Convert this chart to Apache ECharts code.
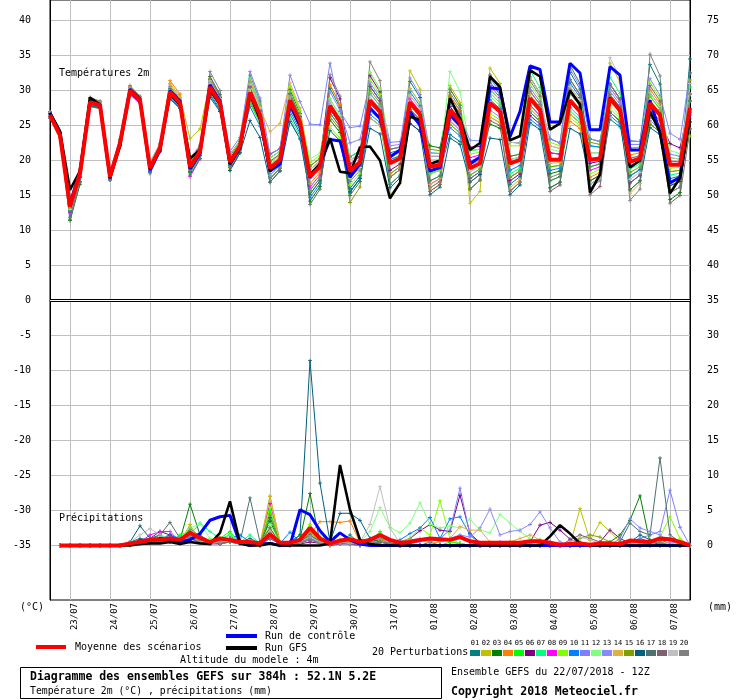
<!DOCTYPE html>
<html><head><meta charset="utf-8">
<script src="https://cdn.jsdelivr.net/npm/echarts@6/dist/echarts.min.js"></script>
<style>html,body{margin:0;padding:0;background:#fff}#c{width:740px;height:700px}</style>
</head><body><div id="c"></div>
<script>
// ---- categories / ticks ----
const days = ['22/07','23/07','24/07','25/07','26/07','27/07','28/07','29/07','30/07','31/07','01/08','02/08','03/08','04/08','05/08','06/08','07/08'];
const hours = ['00Z','06Z','12Z','18Z'];
const tempTicks = [-35,-30,-25,-20,-15,-10,-5,0,5,10,15,20,25,30,35,40];
const rightTicks = [0,5,10,15,20,25,30,35,40,45,50,55,60,65,70,75];
const memberColors = ['#008080','#c0c000','#008000','#ff8000','#00ff00','#800080','#00ff80','#ff00ff','#80ff00','#0080ff','#8080ff','#80ff80','#8888ff','#e0b040','#80a000','#006080','#507070','#806070','#c0c0c0','#808080'];

// ---- temperature 2m (°C) ----
const tMean = [26.5,23.6,13.4,18.2, 28.3,27.9,17.7,22.5, 30.0,28.6,18.9,21.8, 29.8,28.2,19.1,21.3, 30.5,28.2,19.8,22.1, 29.7,26.5,18.9,20.1, 28.6,25.5,17.7,19.1, 27.8,25.6,18.5,19.8, 28.6,27.0,19.6,20.3, 28.3,26.6,19.1,19.4, 27.2,25.5,18.9,19.6, 28.2,27.0,19.6,20.1, 28.9,27.2,20.1,20.1, 28.6,27.0,20.1,20.3, 28.9,27.2,19.8,20.3, 28.2,26.5,19.4,19.4, 27.5];
const tControl = [26.8,24.0,13.8,18.5, 28.5,28.0,17.5,22.5, 30.2,28.8,18.6,21.5, 30.0,28.5,18.8,21.0, 30.8,28.5,19.5,21.8, 29.5,26.0,18.5,19.5, 28.0,25.0,17.5,19.5, 23.0,22.8,17.6,19.5, 27.5,26.0,20.5,21.5, 27.0,25.0,18.5,19.0, 26.5,25.0,19.5,20.5, 30.4,30.2,23.4,27.0, 33.5,33.0,25.5,25.5, 33.9,32.5,24.4,24.4, 33.4,32.2,21.5,21.5, 28.6,24.0,16.8,17.6, 27.0];
const tGFS = [26.8,24.2,15.8,18.5, 29.0,28.0,17.5,22.0, 29.8,28.5,18.8,21.5, 29.5,28.0,20.3,21.5, 30.0,28.0,19.5,21.8, 29.5,26.0,18.5,20.0, 28.5,25.0,18.0,19.5, 23.2,18.4,18.2,21.9, 22.0,20.0,14.6,16.8, 26.3,25.8,19.5,20.0, 28.9,26.0,21.5,22.5, 32.0,30.5,22.9,23.5, 32.9,32.0,24.4,25.3, 30.0,28.0,15.4,18.0, 29.0,27.0,19.0,20.0, 27.0,24.0,15.3,17.5, 26.0];
const t01 = [26.9,23.9,11.9,17.0, 28.6,28.1,17.9,22.7, 29.5,28.2,19.5,22.3, 29.0,27.6,19.6,21.7, 29.3,27.2,20.6,22.7, 31.2,27.7,17.4,18.9, 26.6,23.9,19.2,20.3, 30.3,27.6,16.0,17.8, 26.1,25.0,21.1,21.5, 31.3,29.0,18.1,18.6, 23.7,22.7,21.4,21.6, 31.2,29.4,16.6,17.7, 26.9,25.6,23.1,22.5, 32.6,30.2,16.6,17.5, 25.9,24.8,22.8,22.7, 33.7,30.9,17.4,17.8, 34.5];
const t02 = [26.2,23.4,13.9,18.6, 28.8,28.3,17.4,22.3, 30.6,29.1,18.4,21.4, 31.0,29.2,23.1,24.5, 31.3,28.8,18.8,21.3, 31.2,27.7,19.9,20.9, 30.6,27.1,15.2,17.1, 30.8,28.0,15.5,17.4, 32.6,30.2,15.1,16.7, 32.8,30.2,16.1,17.0, 30.7,28.3,13.9,15.6, 33.2,31.0,17.6,18.5, 31.9,29.6,16.1,16.9, 30.6,28.6,17.1,17.9, 33.9,31.2,15.8,17.1, 29.2,27.3,16.4,17.0, 31.5];
const t03 = [26.3,23.4,11.4,16.6, 27.9,27.6,18.0,22.7, 30.3,28.8,18.5,21.5, 29.3,27.8,18.3,20.7, 31.0,28.6,18.6,21.1, 28.7,25.7,20.4,21.3, 30.1,26.7,14.2,16.3, 25.8,24.0,20.5,21.4, 30.6,28.6,17.6,18.7, 26.8,25.4,22.1,21.8, 29.2,27.1,19.9,20.4, 25.2,24.6,22.6,22.5, 31.9,29.6,18.1,18.5, 26.6,25.4,23.1,22.7, 30.9,28.8,17.8,18.7, 25.2,24.1,14.4,15.4, 29.5];
const t04 = [26.7,23.8,14.2,18.8, 28.9,28.4,17.7,22.5, 30.2,28.8,19.2,22.0, 31.4,29.5,18.6,20.9, 30.8,28.4,20.3,22.5, 30.2,26.9,18.4,19.7, 28.1,25.1,16.7,18.3, 30.8,28.0,17.5,19.0, 27.6,26.2,17.6,18.7, 29.3,27.4,15.6,16.6, 29.2,27.1,16.9,18.0, 26.2,25.4,15.6,16.9, 29.9,28.0,22.1,21.7, 25.6,24.6,17.6,18.3, 30.4,28.4,20.8,21.1, 30.2,28.1,16.4,17.0, 25.5];
const t05 = [26.5,23.6,12.9,17.8, 28.0,27.7,18.1,22.8, 29.6,28.3,18.7,21.6, 30.2,28.5,19.7,21.8, 29.9,27.7,19.4,21.8, 28.2,25.3,19.4,20.5, 27.6,24.7,15.7,17.5, 26.8,24.8,15.5,17.4, 29.6,27.8,20.1,20.7, 26.3,25.0,17.1,17.8, 28.2,26.3,15.9,17.2, 30.2,28.6,20.6,20.9, 27.9,26.4,17.1,17.7, 29.6,27.8,19.1,19.5, 26.9,25.6,21.8,21.9, 29.2,27.3,20.4,20.2, 24.5];
const t06 = [26.8,23.8,13.6,18.4, 28.1,27.7,17.4,22.3, 30.5,29.0,19.1,22.0, 29.5,28.0,20.1,22.1, 31.5,29.0,19.3,21.7, 29.2,26.1,20.9,21.7, 29.6,26.3,18.7,19.9, 31.8,28.8,19.5,20.6, 32.1,29.8,18.6,19.5, 25.3,24.2,20.6,20.6, 27.7,25.9,21.9,22.0, 29.2,27.8,17.1,18.1, 26.4,25.2,21.1,20.9, 31.6,29.4,19.6,19.9, 29.4,27.6,16.8,17.9, 27.2,25.7,22.4,21.8, 28.5];
const t07 = [26.1,23.3,13.7,18.4, 28.5,28.1,17.2,22.1, 29.8,28.4,19.3,22.1, 30.0,28.4,18.1,20.5, 30.1,27.9,20.8,22.9, 31.7,28.1,17.9,19.3, 26.1,23.5,18.2,19.5, 28.8,26.4,20.5,21.4, 27.1,25.8,16.6,17.9, 30.3,28.2,21.1,21.0, 25.2,23.9,17.9,18.8, 29.7,28.2,18.1,18.9, 32.9,30.4,19.1,19.3, 27.1,25.8,22.1,21.9, 31.9,29.6,18.8,19.5, 26.2,24.9,17.9,18.2, 30.5];
const t08 = [26.6,23.7,12.6,17.6, 28.0,27.7,17.5,22.3, 29.4,28.1,18.6,21.6, 29.4,27.9,17.7,20.2, 30.3,28.0,19.0,21.5, 30.5,27.1,19.2,20.3, 29.1,25.9,16.2,17.9, 27.3,25.2,20.0,21.0, 30.6,28.6,21.6,21.9, 28.8,27.0,16.6,17.4, 25.7,24.3,20.4,20.8, 30.7,29.0,20.1,20.5, 27.9,26.4,21.1,20.9, 30.1,28.2,18.6,19.1, 30.9,28.8,19.3,19.9, 29.7,27.7,19.9,19.8, 29.5];
const t09 = [26.4,23.5,14.0,18.7, 28.7,28.2,18.2,22.9, 30.1,28.7,18.7,21.6, 30.4,28.7,19.5,21.6, 31.2,28.8,20.0,22.3, 28.7,25.7,19.7,20.7, 30.6,27.1,19.7,20.7, 24.8,23.2,16.5,18.2, 31.6,29.4,20.6,21.1, 27.3,25.8,18.1,18.6, 30.2,27.9,20.9,21.2, 26.7,25.8,22.1,22.1, 30.9,28.8,22.6,22.1, 26.1,25.0,18.1,18.7, 27.4,26.0,21.3,21.5, 31.2,28.9,18.9,19.0, 23.5];
const t10 = [26.5,23.6,13.2,18.0, 27.8,27.5,18.3,23.0, 29.7,28.4,19.7,22.4, 28.9,27.5,19.4,21.5, 29.5,27.4,19.5,21.9, 27.7,24.9,18.4,19.7, 27.1,24.3,14.7,16.7, 27.3,25.2,15.5,17.4, 26.6,25.4,20.1,20.7, 29.8,27.8,19.6,19.8, 24.7,23.5,17.4,18.4, 28.7,27.4,18.6,19.3, 25.9,24.8,18.6,18.9, 31.1,29.0,22.1,21.9, 26.4,25.2,17.8,18.7, 28.2,26.5,16.9,17.4, 28.5];
const t11 = [26.7,23.7,13.5,18.3, 28.4,28.0,17.3,22.2, 30.4,28.9,19.0,21.9, 30.6,28.8,19.9,21.9, 32.0,29.4,21.3,23.3, 32.7,28.9,20.9,21.7, 32.2,28.4,25.2,25.1, 33.9,27.0,24.7,24.9, 31.1,29.0,22.6,22.7, 26.3,25.0,19.6,19.8, 28.7,26.7,19.9,20.4, 27.2,26.2,17.6,18.5, 30.4,28.4,23.1,22.5, 27.6,26.2,21.1,21.1, 29.9,28.0,22.3,22.3, 25.7,24.5,20.9,20.6, 26.5];
const t12 = [26.3,23.4,13.1,18.0, 28.6,28.1,17.8,22.6, 30.3,28.8,19.4,22.2, 30.3,28.6,18.8,21.1, 30.2,28.0,20.4,22.6, 30.2,26.9,20.4,21.3, 29.8,26.5,20.2,21.1, 28.8,26.4,17.5,19.0, 32.6,30.2,21.6,21.9, 27.8,26.2,20.1,20.2, 32.7,29.9,21.4,21.6, 29.2,27.8,20.1,20.5, 26.9,25.6,21.6,21.3, 31.6,29.4,21.1,21.1, 27.9,26.4,20.3,20.7, 29.7,27.7,21.4,21.0, 29.5];
const t13 = [26.6,23.7,13.8,18.5, 28.3,27.9,18.0,22.7, 29.9,28.5,18.6,21.6, 29.6,28.0,19.3,21.5, 31.1,28.7,20.1,22.3, 28.9,25.9,17.9,19.3, 25.6,23.1,17.7,19.1, 29.8,27.2,22.5,23.0, 29.6,27.8,22.1,22.3, 31.8,29.4,21.1,21.0, 28.2,26.3,22.9,22.8, 31.7,29.8,22.6,22.5, 29.9,28.0,23.1,22.5, 33.1,30.6,23.1,22.7, 30.4,28.4,22.8,22.7, 31.7,29.3,23.9,23.0, 32.5];
const t14 = [26.4,23.5,14.3,18.9, 28.6,28.1,18.0,22.7, 30.5,29.0,19.5,22.3, 30.8,29.0,19.9,21.9, 31.0,28.6,20.8,22.9, 31.6,27.5,24.1,25.3, 31.1,27.5,18.7,19.9, 26.8,24.8,20.0,21.0, 26.1,25.0,18.1,19.1, 30.3,28.2,16.6,17.4, 26.2,24.7,19.4,20.0, 26.2,25.4,16.1,17.3, 29.4,27.6,19.6,19.7, 26.6,25.4,17.1,17.9, 28.4,26.8,15.3,16.7, 27.2,25.7,18.4,18.6, 26.0];
const t15 = [26.8,23.8,13.2,18.0, 28.8,28.3,17.3,22.2, 29.8,28.4,19.2,22.0, 30.1,28.4,18.7,21.0, 31.7,29.2,20.1,22.3, 28.5,25.5,17.4,18.9, 29.1,25.9,19.2,20.3, 26.3,24.4,14.0,16.2, 30.1,28.2,18.1,19.1, 27.8,26.2,21.6,21.4, 25.2,23.9,17.9,18.8, 30.2,28.6,17.6,18.5, 27.4,26.0,19.1,19.3, 30.1,28.2,22.6,22.3, 29.4,27.6,18.3,19.1, 25.2,24.1,18.4,18.6, 28.5];
const t16 = [26.7,23.8,12.8,17.7, 27.8,27.5,17.2,22.1, 29.6,28.3,18.3,21.3, 28.8,27.4,18.4,20.7, 29.0,27.0,18.6,21.1, 25.7,23.3,16.9,18.5, 25.6,23.1,15.2,17.1, 24.3,22.8,15.5,17.4, 24.6,23.8,16.1,17.5, 25.3,24.2,15.1,16.2, 23.2,22.3,16.9,18.0, 23.2,23.0,15.1,16.5, 25.4,24.4,16.1,16.9, 24.6,23.8,17.1,17.9, 26.9,25.6,15.8,17.1, 24.7,23.7,16.4,17.0, 25.5];
const t17 = [27.0,24.0,11.6,16.8, 27.7,27.4,17.5,22.3, 30.2,28.8,18.4,21.4, 30.3,28.6,17.9,20.3, 32.0,29.4,19.3,21.7, 30.5,27.1,16.9,18.5, 29.6,26.3,13.7,15.9, 26.8,24.8,15.0,17.0, 30.6,28.6,16.6,17.9, 27.3,25.8,17.1,17.8, 30.2,27.9,15.9,17.2, 32.2,30.2,20.6,20.9, 26.9,25.6,17.1,17.7, 33.6,31.0,19.1,19.5, 30.9,28.8,16.8,17.9, 26.2,24.9,15.4,16.2, 32.5];
const t18 = [26.2,23.4,13.6,18.4, 28.5,28.1,17.9,22.7, 29.8,28.4,18.9,21.8, 29.2,27.7,18.9,21.1, 30.0,27.8,20.2,22.4, 29.4,26.3,19.9,20.9, 27.6,24.7,18.2,19.5, 28.3,26.0,18.0,19.4, 28.1,26.6,21.6,21.9, 27.3,25.8,15.6,16.6, 28.7,26.7,17.4,18.4, 25.7,25.0,15.6,16.9, 31.4,29.2,15.6,16.5, 31.6,29.4,15.1,16.3, 26.9,25.6,20.3,20.7, 30.7,28.5,13.9,15.0, 24.5];
const t19 = [26.9,23.9,13.0,17.9, 28.7,28.2,18.4,23.1, 30.3,28.8,19.8,22.5, 29.9,28.3,20.3,22.3, 31.4,28.9,20.1,22.3, 30.9,27.5,19.4,20.5, 29.1,25.9,18.7,19.9, 28.3,26.0,20.0,21.0, 29.1,27.4,20.6,21.1, 29.3,27.4,20.6,20.6, 25.7,24.3,18.4,19.2, 30.2,28.6,22.6,22.5, 31.9,29.6,22.1,21.7, 30.6,28.6,16.6,17.5, 34.7,31.8,17.3,18.3, 27.7,26.1,20.4,20.2, 31.0];
const t20 = [26.0,23.2,11.8,16.9, 29.0,28.5,17.2,22.1, 30.7,29.2,18.1,21.2, 29.6,28.0,18.6,20.9, 32.7,30.0,19.1,21.5, 32.2,28.5,17.4,18.9, 29.4,26.1,15.7,17.5, 32.3,29.2,17.0,18.6, 34.1,31.4,17.6,18.7, 27.3,25.8,16.1,17.0, 29.7,27.5,15.9,17.2, 32.2,30.2,15.6,16.9, 29.9,28.0,17.6,18.1, 29.6,27.8,16.1,17.1, 30.9,28.8,14.3,15.9, 35.2,32.1,15.4,16.2, 29.5];

// ---- precipitation (mm / 6h) ----
const pMean = [null, 0,0,0,0,0,0,0, 0.3,0.5,0.8,0.8, 1.0,0.8,1.8,1.1, 0.5,1.0,0.8,0.5, 0.5,0.3,1.6,0.4, 0.4,0.8,2.5,1.0, 0.3,0.7,0.9,0.5, 0.8,1.5,0.8,0.4, 0.5,0.8,1.0,0.9, 0.8,1.2,0.6,0.4, 0.4,0.4,0.4,0.4, 0.6,0.6,0.4,0.1, 0.2,0.3,0.1,0.3, 0.3,0.2,0.7,0.6, 0.5,1.0,0.9,0.5, 0];
const pControl = [null, 0,0,0,0,0,0,0, 0.2,0.5,0.8,1.0, 0.7,0.5,0.8,1.7, 3.6,4.1,4.3,0.3, 0,0.2,0.3,0, 0,5.1,4.4,2.1, 0.5,1.8,0.8,0.2, 0,0,0,0, 0,0,0,0, 0,0,0,0, 0,0,0,0, 0,0,0,0, 0,0,0,0, 0,0,0,0, 0,0,0,0, 0];
const pGFS = [null, 0,0,0,0,0,0,0, 0,0.2,0.3,0.3, 0.5,0.2,0.5,0.3, 0.2,1.8,6.3,0.3, 0,0,0.3,0, 0,0,0,0, 0.3,11.5,5.1,0.8, 0.2,0,0,0, 0,0,0,0, 0,0,0,0, 0,0,0,0, 0,0,1.3,2.9, 1.7,0.3,0,0, 0,0,0,0, 0,0,0,0, 0];
const p01 = [null, 0,0,0,0,0,0,0, 0.5,1.0,0.8,1.5, 0.6,0.3,2.5,1.2, 0.4,0.8,1.5,0.3, 0.2,0,4.0,0.5, 0,0.5,1.2,0.8, 0.2,0.5,1.5,0.3, 0.2,1.0,0.5,0, 0.2,0,0.5,0, 0,0.3,0,0, 0,0,0,0, 0,0.2,0,0, 0,0,0,0, 0,0,0.5,1.0, 0.5,0.3,0,0.3, 0];
const p02 = [null, 0,0,0,0,0,0,0, 0.2,0.3,0.5,0.3, 1.0,0.5,3.0,0.5, 0.3,0.5,0.8,0.2, 0.3,0,7.0,0.5, 0.3,0.2,1.5,0.5, 0,0.3,0.5,0.2, 0.3,0.5,0.2,0, 0,0,0,0, 0,0,0,0, 0,0.3,0.5,0.2, 0.2,0.8,0.3,0, 0,5.3,0.7,3.3, 2.0,0.5,0.2,0, 0,0,0,0, 0];
const p03 = [null, 0,0,0,0,0,0,0, 0,0.2,0.5,1.0, 1.5,0.8,5.9,1.5, 0.5,0.3,1.0,0.2, 0.5,0.2,3.5,0.3, 0.2,1.0,7.4,0.5, 0.2,0.5,0.3,0.2, 0.5,0.2,0,0, 0,0,0,0, 0,0,0,0, 0,0,0,0, 0,0,0,0, 0,0,0,0, 0.5,1.5,3.6,7.1, 0.4,0.2,0,0, 0];
const p04 = [null, 0,0,0,0,0,0,0, 0.3,0.5,0.5,0.8, 0.5,0.5,1.5,0.8, 0.3,0.5,1.0,0.5, 0.3,0,2.5,0.3, 0.5,0.3,1.5,3.4, 3.4,3.3,3.5,0.4, 1.0,0.5,0.2,0, 0,0,0,0, 0,0,0,0, 0,0,0.5,0.3, 0,0,0,0, 0,0,0,0, 0,0,0,0.3, 0.2,0.5,0.3,0, 0];
const p05 = [null, 0,0,0,0,0,0,0, 0.2,0.5,0.3,1.0, 0.5,1.5,2.0,1.0, 0.5,1.0,2.0,0.3, 0.5,0.2,5.0,0.3, 0.2,1.5,2.0,0.8, 0.5,0.2,0.3,0, 0.5,2.0,0.3,0, 0,0,0,0, 0.5,0.3,0,0, 0,0,0,0, 0,0,0,0, 0,0,0,0, 0,0,0,0, 0,0,0,0, 0];
const p06 = [null, 0,0,0,0,0,0,0, 0.3,0.8,1.0,2.0, 1.5,0.5,1.0,0.5, 0.3,0.2,0.5,0.3, 0.5,0.2,1.5,0, 0.3,0.2,0.5,0.3, 0,0.2,0.3,0.5, 0.3,0.5,0.2,0.5, 1.0,2.1,3.0,2.2, 2.0,7.2,1.7,0.4, 0,0,0.3,0, 0.5,2.9,3.3,2.2, 0.9,0.3,0,0.5, 2.2,1.0,0.3,0.5, 0.3,0.8,0.7,0.5, 0];
const p07 = [null, 0,0,0,0,0,0,0, 0.5,0.3,1.0,1.5, 0.8,0.5,1.5,3.2, 2.0,1.0,1.5,0.5, 1.5,0.3,2.0,0.2, 0.5,0.3,1.0,0.5, 0.3,0.8,1.0,0.3, 0.5,1.2,0.3,0, 0,0,0,0, 0,0,0,0, 0,0,0,0, 0,0,0,0, 0,0,0,0, 0,0,0.2,0.5, 0.3,0,0,0, 0];
const p08 = [null, 0,0,0,0,0,0,0, 0.2,0.5,1.5,2.0, 2.0,0.5,1.0,0.5, 0.2,0.5,0.8,0.2, 0.3,0.2,6.0,0.3, 0,0.5,3.0,0.5, 0.2,0.3,0.2,0, 0.5,1.5,0.3,0, 0,0,0,0, 0,0,0,0, 0,0.5,0.3,0, 0,0,0,0, 0,0,0,0, 0,0,0,0, 0.6,0.8,0.3,0, 0];
const p09 = [null, 0,0,0,0,0,0,0, 0,0.2,0.5,0.5, 1.0,0.8,2.0,1.0, 0.5,0.3,0.5,0.2, 0.5,0.2,5.5,0.5, 0.2,1.0,3.0,1.0, 0.5,0.3,0.5,0.2, 0.5,0.8,0.3,0.5, 1.0,2.5,1.5,6.4, 1.0,0.3,0,0, 0,0,0,0, 0,0,0,0, 0,0,0,0, 0,0,0,0, 0.5,1.2,4.1,1.0, 0];
const p10 = [null, 0,0,0,0,0,0,0, 0.2,0.3,0.5,0.8, 1.5,1.0,1.2,0.5, 0.3,0.5,1.0,1.5, 0.5,0.3,1.0,0.3, 1.9,0.5,1.0,0.5, 0.3,0.5,0.2,0.5, 1.0,0.5,0.3,0.8, 1.7,2.5,4.0,1.0, 3.8,4.1,1.5,0.3, 0,0,0,0, 0,0.3,0.5,0, 0,0,0,0, 0,0,0,0, 0,0,0,0, 0];
const p11 = [null, 0,0,0,0,0,0,0, 0.3,0.5,1.0,0.8, 0.5,1.0,1.5,0.5, 0.5,0.3,1.0,0.5, 0.3,0.2,1.0,0.3, 0.5,0.3,1.5,0.3, 0.2,0.5,0.3,0.2, 0.5,1.0,0.5,0.3, 0.8,1.0,0.5,1.0, 2.2,8.2,1.5,0.3, 0,0,0,0, 0.3,0,0,0, 0,0,0,0, 0,0,0.5,1.0, 1.5,2.0,7.9,2.6, 0];
const p12 = [null, 0,0,0,0,0,0,0, 0.3,0.5,0.5,1.0, 0.8,1.0,2.5,3.1, 1.0,0.8,1.5,0.5, 0.5,0.2,3.0,0.5, 0.2,0.5,1.0,1.5, 0.5,0.8,1.0,0.5, 2.0,5.4,2.6,1.8, 3.2,6.1,3.0,2.5, 2.8,2.5,3.8,2.2, 1.8,4.4,3.2,2.0, 1.0,0.5,0,0, 0,0,0,0, 0,0,0,0, 0.3,0.5,0.3,0, 0];
const p13 = [null, 0,0,0,0,0,0,0, 0.2,0.5,0.3,0.5, 0.5,0.3,1.0,0.3, 0.2,0.3,0.5,0.2, 0.2,0,1.5,0.2, 0.3,0.2,1.0,0.5, 0.3,0.2,0.2,0, 0.3,0.5,0.3,0.5, 0.3,0.5,1.0,0.5, 1.0,1.5,1.2,2.5, 5.2,1.5,2.0,2.2, 3.0,4.8,2.5,0.5, 0,0,0,0, 0,1.0,3.8,2.5, 2.0,1.5,0.5,0.3, 0];
const p14 = [null, 0,0,0,0,0,0,0, 0.2,0.3,0.5,0.5, 1.0,0.8,2.0,0.5, 0.3,0.5,0.8,0.3, 0.2,0.3,7.1,0.5, 0.3,0.5,2.0,0.5, 0.2,0.3,0.5,0.2, 0.3,0.8,0.5,0.2, 0.5,0.8,0.3,0.5, 1.0,2.7,2.2,2.2, 0.5,0.2,0.5,1.0, 1.5,0.8,0.2,0, 0,0,0,0, 0,0,0.3,0.5, 0.5,0.3,0,0, 0];
const p15 = [null, 0,0,0,0,0,0,0, 0.3,0.5,0.8,0.5, 1.2,0.5,2.2,0.8, 0.5,0.3,0.5,0.2, 0.3,0.2,4.5,0.3, 0.5,0.3,1.8,0.5, 0.2,0.5,0.3,0.2, 0.5,0.8,0.3,0.2, 0,0,0,0, 0,0,0,0, 0,0,0,0, 0,0,0,0, 0,1.0,1.5,1.2, 0.5,0,0,0, 0,0.5,0,0, 0];
const p16 = [null, 0,0,0,0,0,0,0, 0.5,2.8,1.0,0.8, 1.2,0.5,1.5,0.8, 0.5,0.8,1.0,0.5, 1.0,0.3,1.5,0.3, 0.5,1.5,26.4,8.9, 0.5,4.6,4.6,3.6, 1.0,0.5,0.3,0.2, 0,0,0,0, 0,0,0,0, 0,0,0,0, 0,0,0,0, 0,0,0,0, 0,0,0.5,1.5, 0.8,0,0,0, 0];
const p17 = [null, 0,0,0,0,0,0,0, 0.3,0.5,1.0,1.5, 3.3,1.0,2.0,1.0, 0.5,0.5,1.0,0.5, 6.8,0.5,2.5,0.3, 0.3,0.5,1.5,0.5, 0.3,0.5,0.8,0.2, 0.3,0.5,0.2,0, 0,0,0,0, 0,0,0,0, 0,0,0,0, 0,0,0,0, 0,0,0,0, 0,0.5,3.2,2.0, 1.5,12.5,1.5,0.5, 0];
const p18 = [null, 0,0,0,0,0,0,0, 0.2,0.3,0.5,0.8, 0.5,0.5,1.0,0.5, 0.2,0.3,0.5,0.2, 0.3,0,1.0,0.2, 0.2,0.3,0.8,0.3, 0.2,0.3,0.2,0, 0.2,0.5,0.2,0, 0,0,0,0, 0,0,0,0, 0,0,0,0, 0,0,0,0, 0.8,1.5,1.0,0.5, 0,0,0,0, 0.5,0.3,0,0, 0];
const p19 = [null, 0,0,0,0,0,0,0, 0.5,1.5,2.4,1.5, 1.0,0.5,1.5,0.5, 0.3,0.5,0.8,0.3, 0.5,0.2,2.0,0.3, 0.3,0.5,1.2,0.5, 0.3,0.5,0.3,0.5, 3.0,8.4,2.5,0.3, 0,0,0,0, 0,0,0,0, 0,0,0,0, 0,0,0,0, 0.5,1.2,0.8,0.3, 0,0,0,0, 0.3,0,0,0, 0];
const p20 = [null, 0,0,0,0,0,0,0, 0.3,0.5,0.8,0.5, 0.8,0.5,1.2,0.8, 0.5,0.5,1.0,0.5, 0.5,0.2,1.8,0.3, 0.3,0.5,1.0,0.3, 0.2,0.5,0.5,0.2, 0.3,0.5,0.3,0, 0,0,0,0, 0,0,0,0, 0,0,0,0, 0,0,0,0, 0.3,0.5,0,0, 0,0,0,0, 0.3,0.5,0,0, 0];

// ---- build ----
const allSteps = [];
days.forEach(d => hours.forEach(h => allSteps.push(d + ' ' + h)));
const categories = allSteps.slice(2, 2 + tMean.length);
const tMembers = [t01,t02,t03,t04,t05,t06,t07,t08,t09,t10,t11,t12,t13,t14,t15,t16,t17,t18,t19,t20];
const pMembers = [p01,p02,p03,p04,p05,p06,p07,p08,p09,p10,p11,p12,p13,p14,p15,p16,p17,p18,p19,p20];

const FONT = '"DejaVu Sans Mono", "Liberation Mono", monospace';
const plus = 'path://M4,0h2v4h4v2h-4v4h-2v-4h-4v-2h4z';
const isMidnight = (i) => i % 4 === 2;

const series = [];
function member(data, yIdx, color, k) {
  return { type:'line', name:'P'+k, data, xAxisIndex:0, yAxisIndex:yIdx,
    symbol: plus, symbolSize: 4, showAllSymbol: true,
    lineStyle:{ width:1, color }, itemStyle:{ color },
    emphasis:{ disabled:true }, z:2, animation:false };
}
tMembers.forEach((d,k) => series.push(member(d, 0, memberColors[k], k+1)));
pMembers.forEach((d,k) => series.push(member(d, 1, memberColors[k], k+1)));
function main(data, yIdx, color, width, z, extra) {
  return Object.assign({ type:'line', data, xAxisIndex:0, yAxisIndex:yIdx, symbol:'none',
    lineStyle:{ width, color }, itemStyle:{ color }, emphasis:{ disabled:true }, z, animation:false }, extra || {});
}
series.push(main(tControl, 0, '#0000ff', 3, 3));
series.push(main(pControl, 1, '#0000ff', 3, 3));
series.push(main(tGFS, 0, '#000000', 2.6, 4));
series.push(main(pGFS, 1, '#000000', 2.6, 4));
series.push(main(pMean, 1, '#ff0000', 4, 5));
series.push(main(tMean, 0, '#ff0000', 4, 5, {
  markLine: { silent:true, symbol:'none', animation:false, label:{show:false},
    data: [ { yAxis:0, lineStyle:{ color:'#000', width:3.2, type:'solid' } },
            { yAxis:0, lineStyle:{ color:'#fff', width:1.1, type:'solid' } } ] }
}));

const graphic = [];
function txt(x, y, text, font, extra) {
  graphic.push({ type:'text', x, y, silent:true, z:10,
    style: Object.assign({ text, font, fill:'#000', align:'left', verticalAlign:'middle' }, extra || {}) });
}
txt(59, 73, 'Températures 2m', '10px ' + FONT);
txt(59, 518, 'Précipitations', '10px ' + FONT);
txt(20, 607, '(°C)', '10px ' + FONT);
txt(708, 607, '(mm)', '10px ' + FONT);
// legend lines
graphic.push({ type:'line', silent:true, shape:{x1:36,y1:647,x2:66,y2:647}, style:{stroke:'#ff0000', lineWidth:4} });
graphic.push({ type:'line', silent:true, shape:{x1:226,y1:636,x2:257,y2:636}, style:{stroke:'#0000ff', lineWidth:4} });
graphic.push({ type:'line', silent:true, shape:{x1:226,y1:648,x2:257,y2:648}, style:{stroke:'#000000', lineWidth:4} });
txt(75, 647, 'Moyenne des scénarios', '10px ' + FONT);
txt(265, 636, 'Run de contrôle', '10px ' + FONT);
txt(265, 648, 'Run GFS', '10px ' + FONT);
txt(180, 660, 'Altitude du modele : 4m', '10px ' + FONT);
txt(372, 652, '20 Perturbations', '10px ' + FONT);
memberColors.forEach((c, i) => {
  graphic.push({ type:'rect', silent:true, shape:{ x:470 + 11*i, y:650, width:10, height:6 }, style:{ fill:c } });
  txt(475 + 11*i, 643, String(i+1).padStart(2,'0'), '7px ' + FONT, { align:'center' });
});
graphic.push({ type:'rect', silent:true, shape:{ x:20.5, y:667.5, width:421, height:31 }, style:{ fill:'none', stroke:'#000', lineWidth:1 } });
txt(30, 677, 'Diagramme des ensembles GEFS sur 384h : 52.1N 5.2E', 'bold 11.5px ' + FONT);
txt(30, 691, 'Température 2m (°C) , précipitations (mm)', '9.8px ' + FONT);
txt(451, 672, 'Ensemble GEFS du 22/07/2018 - 12Z', '10px ' + FONT);
txt(451, 692, 'Copyright 2018 Meteociel.fr', 'bold 11.5px ' + FONT);

const chart = echarts.init(document.getElementById('c'), null, { renderer:'canvas' });
chart.setOption({
  animation:false,
  backgroundColor:'#fff',
  grid:{ left:50, right:50, top:0, bottom:100, show:true, borderColor:'#000', borderWidth:1, outerBoundsMode:'none', containLabel:false },
  xAxis:[{ type:'category', data:categories, boundaryGap:false,
    axisLine:{ show:true, lineStyle:{ color:'#000' } }, axisTick:{ show:false },
    axisLabel:{ interval:(i) => isMidnight(i), rotate:90, formatter:(v) => v.slice(0,5),
      fontFamily:'DejaVu Sans Mono', fontSize:9, color:'#000', margin:3, verticalAlign:'top' },
    splitLine:{ show:true, interval:(i) => isMidnight(i), lineStyle:{ color:'#c0c0c0', width:1 } } }],
  yAxis:[
    { type:'value', position:'left', min:-42.79, max:42.93,
      axisLine:{ show:true, lineStyle:{ color:'#000' } },
      axisTick:{ show:false, customValues:tempTicks },
      axisLabel:{ customValues:tempTicks, margin:19, fontFamily:'DejaVu Sans Mono', fontSize:10, color:'#000' },
      splitLine:{ show:true, lineStyle:{ color:'#c0c0c0', width:1 } } },
    { type:'value', position:'right', min:-7.79, max:77.93,
      axisLine:{ show:true, lineStyle:{ color:'#000' } },
      axisTick:{ show:false, customValues:rightTicks },
      axisLabel:{ customValues:rightTicks, margin:17, fontFamily:'DejaVu Sans Mono', fontSize:10, color:'#000' },
      splitLine:{ show:false } }
  ],
  series,
  graphic
});
</script></body></html>
